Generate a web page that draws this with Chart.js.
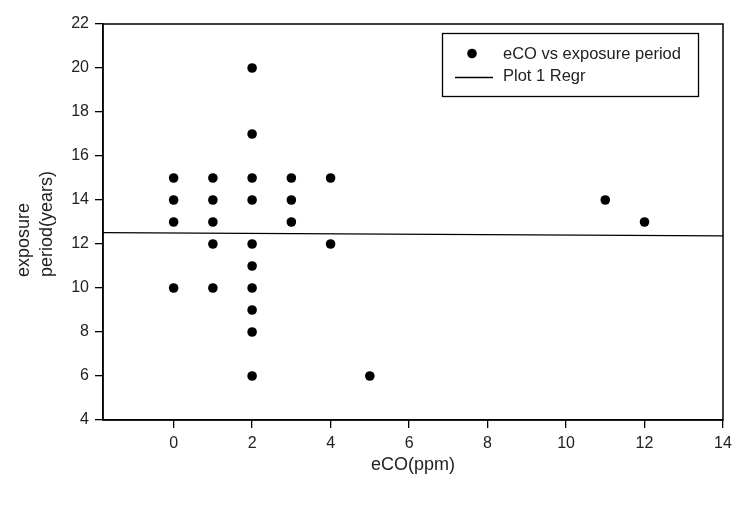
<!DOCTYPE html>
<html>
<head>
<meta charset="utf-8">
<script src="https://cdn.jsdelivr.net/npm/chart.js@4/dist/chart.umd.min.js"></script>
<style>
html,body{margin:0;padding:0;background:#fff;}
#wrap{width:748px;height:508px;}
</style>
</head>
<body>
<div id="wrap"><canvas id="c" width="748" height="508"></canvas></div>
<script>
// Scatter data: eCO (ppm) vs exposure period (years)
const eco      = [0, 0, 0, 0,  1, 1, 1, 1, 1,  2, 2, 2, 2, 2, 2, 2, 2, 2, 2,  3, 3, 3,  4, 4,  5,  11, 12];
const exposure = [15,14,13,10, 15,14,13,12,10, 20,17,15,14,12,11,10,9,8,6,  15,14,13, 15,12, 6,  14, 13];
// Regression line endpoints
const regrX = [-1.8, 14];
const regrY = [12.52, 12.37];
// Axes
const xTicks = [0, 2, 4, 6, 8, 10, 12, 14];
const yTicks = [4, 6, 8, 10, 12, 14, 16, 18, 20, 22];
const xRange = [-1.8, 14];
const yRange = [4, 22];
const seriesNames = ['eCO vs exposure period', 'Plot 1 Regr'];
const xTitle = 'eCO(ppm)';
const yTitle = ['exposure', 'period(years)'];

const FONT = 'Arial, "Liberation Sans", Helvetica, sans-serif';

const framePlugin = {
  id: 'frame',
  afterDraw(chart) {
    const {ctx, chartArea: a} = chart;
    ctx.save();
    ctx.strokeStyle = '#000';
    ctx.lineWidth = 1.5;
    ctx.strokeRect(a.left, a.top, a.right - a.left, a.bottom - a.top);

    // y-axis title (two lines, start-aligned)
    ctx.fillStyle = '#222';
    ctx.font = '18px ' + FONT;
    ctx.textBaseline = 'middle';
    ctx.textAlign = 'left';
    const lx = [24, 47];
    yTitle.forEach((t, i) => {
      ctx.save();
      ctx.translate(lx[i], 277);
      ctx.rotate(-Math.PI / 2);
      ctx.fillText(t, 0, 0);
      ctx.restore();
    });

    // Legend
    const bx = 442.5, by = 33.5, bw = 256, bh = 63;
    ctx.lineWidth = 1.3;
    ctx.strokeStyle = '#000';
    ctx.strokeRect(bx, by, bw, bh);
    ctx.fillStyle = '#000';
    ctx.beginPath();
    ctx.arc(472, 53.5, 4.8, 0, Math.PI * 2);
    ctx.fill();
    ctx.beginPath();
    ctx.moveTo(455, 77.5);
    ctx.lineTo(493, 77.5);
    ctx.lineWidth = 1.3;
    ctx.stroke();
    ctx.fillStyle = '#222';
    ctx.font = '16.5px ' + FONT;
    ctx.textAlign = 'left';
    ctx.textBaseline = 'middle';
    ctx.fillText(seriesNames[0], 503, 54);
    ctx.fillText(seriesNames[1], 503, 76);
    ctx.restore();
  }
};

new Chart(document.getElementById('c'), {
  type: 'scatter',
  data: {
    datasets: [
      {
        label: seriesNames[0],
        data: eco.map((x, i) => ({x: x, y: exposure[i]})),
        backgroundColor: '#000',
        borderColor: '#000',
        pointRadius: 4.8,
        pointHoverRadius: 4.8,
        borderWidth: 0
      },
      {
        label: seriesNames[1],
        type: 'line',
        data: regrX.map((x, i) => ({x: x, y: regrY[i]})),
        borderColor: '#000',
        borderWidth: 1.3,
        pointRadius: 0,
        fill: false,
        tension: 0
      }
    ]
  },
  options: {
    responsive: false,
    animation: false,
    events: [],
    layout: {padding: {top: 24, right: 25, left: 0, bottom: 0}},
    plugins: {
      legend: {display: false},
      tooltip: {enabled: false}
    },
    scales: {
      x: {
        type: 'linear',
        min: xRange[0],
        max: xRange[1],
        afterBuildTicks(s) { s.ticks = xTicks.map(v => ({value: v})); },
        afterFit(s) { s.height = 88; },
        grid: {drawOnChartArea: false, drawTicks: true, tickLength: 8, color: '#000', lineWidth: 1.3},
        border: {display: true, color: '#000', width: 1.5},
        ticks: {color: '#222', font: {size: 16, family: FONT}, padding: 6, maxRotation: 0, autoSkip: false},
        title: {display: true, text: xTitle, color: '#222', font: {size: 18, family: FONT}, padding: {top: 0, bottom: 32}}
      },
      y: {
        type: 'linear',
        min: yRange[0],
        max: yRange[1],
        afterBuildTicks(s) { s.ticks = yTicks.map(v => ({value: v})); },
        afterFit(s) { s.width = 103; },
        grid: {drawOnChartArea: false, drawTicks: true, tickLength: 8, color: '#000', lineWidth: 1.3},
        border: {display: true, color: '#000', width: 1.5},
        ticks: {color: '#222', font: {size: 16, family: FONT}, padding: 6, autoSkip: false}
      }
    }
  },
  plugins: [framePlugin]
});
</script>
</body>
</html>
